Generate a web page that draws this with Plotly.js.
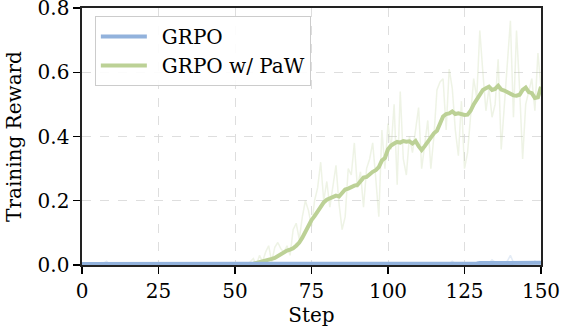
<!DOCTYPE html>
<html>
<head>
<meta charset="utf-8">
<script src="https://cdn.plot.ly/plotly-3.0.1.min.js"></script>
<style>html,body{margin:0;padding:0;background:#fff;}#chart{width:562px;height:334px;}</style>
</head>
<body>
<div id="chart"></div>
<script>
// Steps 0..150
const steps = Array.from({length: 151}, (_, i) => i);

// GRPO w/ PaW raw reward (steps 0..150)
const pawRaw = [
  0,0,0,0,0,0,0,0,0,0,
  0,0,0,0,0,0,0,0,0,0,
  0,0,0,0,0,0,0,0,0,0,
  0,0,0,0,0,0,0,0,0,0,
  0,0,0,0,0,0,0,0,0,0,
  0,0,0,0,0,0.01,0.02,0.0,0.03,0.01,
  0.04,0.06,0.01,0.055,0.07,0.05,0.04,0.06,0.03,0.11,
  0.13,0.08,0.15,0.2,0.17,0.12,0.2,0.24,0.32,0.2,
  0.26,0.18,0.25,0.31,0.19,0.11,0.15,0.3,0.28,0.38,
  0.24,0.29,0.18,0.3,0.33,0.38,0.27,0.15,0.42,0.3,
  0.44,0.36,0.5,0.25,0.54,0.33,0.28,0.4,0.35,0.42,
  0.49,0.3,0.37,0.45,0.3,0.4,0.545,0.57,0.58,0.42,
  0.61,0.55,0.42,0.34,0.51,0.3,0.35,0.46,0.58,0.52,
  0.73,0.6,0.48,0.55,0.46,0.5,0.64,0.36,0.5,0.65,
  0.76,0.46,0.73,0.55,0.33,0.5,0.54,0.58,0.48,0.66,
  0.55
];

// GRPO w/ PaW smoothed reward
const pawSmooth = [
  0,0,0,0,0,0,0,0,0,0,
  0,0,0,0,0,0,0,0,0,0,
  0,0,0,0,0,0,0,0,0,0,
  0,0,0,0,0,0,0,0,0,0,
  0,0,0,0,0,0,0,0,0,0,
  0.001,0.001,0.001,0.001,0.001,0.002,0.004,0.006,0.008,0.011,
  0.014,0.017,0.019,0.022,0.028,0.035,0.041,0.045,0.048,0.052,
  0.06,0.07,0.085,0.105,0.125,0.14,0.152,0.168,0.182,0.195,
  0.203,0.208,0.212,0.216,0.213,0.222,0.235,0.238,0.243,0.247,
  0.249,0.26,0.272,0.274,0.284,0.29,0.295,0.305,0.325,0.333,
  0.36,0.372,0.378,0.383,0.381,0.386,0.384,0.385,0.378,0.386,
  0.37,0.358,0.37,0.385,0.395,0.41,0.418,0.44,0.462,0.47,
  0.472,0.478,0.47,0.472,0.468,0.467,0.468,0.48,0.5,0.514,
  0.53,0.545,0.55,0.555,0.545,0.548,0.558,0.546,0.543,0.538,
  0.53,0.528,0.527,0.53,0.545,0.552,0.538,0.535,0.52,0.522,
  0.555
];

// GRPO raw reward
const grpoRaw = [
  0.002,0.001,0.002,0.003,0.001,0.002,0.002,0.005,0.012,0.003,
  0.002,0.001,0.002,0.002,0.001,0.003,0.002,0.001,0.002,0.004,
  0.002,0.001,0.002,0.001,0.002,0.003,0.002,0.001,0.002,0.002,
  0.001,0.002,0.004,0.002,0.001,0.002,0.002,0.001,0.003,0.002,
  0.001,0.002,0.002,0.001,0.002,0.003,0.001,0.002,0.002,0.001,
  0.002,0.001,0.002,0.002,0.001,0.003,0.002,0.001,0.002,0.002,
  0.001,0.002,0.003,0.002,0.001,0.002,0.002,0.001,0.002,0.002,
  0.001,0.002,0.002,0.001,0.003,0.002,0.002,0.001,0.002,0.002,
  0.001,0.002,0.002,0.001,0.002,0.003,0.002,0.001,0.002,0.002,
  0.001,0.002,0.002,0.001,0.002,0.002,0.003,0.001,0.002,0.002,
  0.001,0.002,0.002,0.001,0.002,0.002,0.001,0.003,0.002,0.002,
  0.001,0.002,0.002,0.001,0.004,0.002,0.002,0.003,0.004,0.002,
  0.003,0.012,0.004,0.003,0.005,0.004,0.006,0.004,0.005,0.004,
  0.006,0.005,0.007,0.006,0.016,0.008,0.007,0.006,0.008,0.012,
  0.03,0.008,0.007,0.006,0.007,0.006,0.005,0.006,0.012,0.007,
  0.006
];

// GRPO smoothed reward
const grpoSmooth = [
  0.003,0.003,0.003,0.003,0.003,0.003,0.003,0.003,0.004,0.004,
  0.003,0.003,0.003,0.003,0.003,0.003,0.003,0.003,0.003,0.003,
  0.003,0.003,0.003,0.003,0.003,0.003,0.003,0.003,0.003,0.003,
  0.003,0.003,0.003,0.003,0.003,0.003,0.003,0.003,0.003,0.003,
  0.003,0.003,0.003,0.003,0.003,0.003,0.003,0.003,0.003,0.003,
  0.003,0.003,0.003,0.003,0.003,0.003,0.003,0.003,0.003,0.003,
  0.003,0.003,0.003,0.003,0.003,0.003,0.003,0.003,0.003,0.003,
  0.002,0.002,0.002,0.002,0.002,0.002,0.002,0.002,0.002,0.002,
  0.002,0.002,0.002,0.002,0.002,0.002,0.002,0.002,0.002,0.002,
  0.002,0.002,0.002,0.002,0.002,0.002,0.002,0.002,0.002,0.002,
  0.002,0.002,0.002,0.002,0.002,0.002,0.002,0.002,0.002,0.002,
  0.002,0.002,0.002,0.002,0.003,0.003,0.003,0.003,0.003,0.003,
  0.004,0.004,0.004,0.004,0.004,0.004,0.005,0.005,0.005,0.005,
  0.006,0.006,0.006,0.006,0.007,0.007,0.007,0.007,0.007,0.008,
  0.008,0.008,0.008,0.008,0.008,0.007,0.007,0.007,0.007,0.007,
  0.007
];

const seriesNames = ['GRPO', 'GRPO w/ PaW'];
const xTicks = [0, 25, 50, 75, 100, 125, 150];
const yTicks = [0.0, 0.2, 0.4, 0.6, 0.8];
const yTickText = ["0.0", "0.2", "0.4", "0.6", "0.8"];

const blue = '#92b2dc';
const green = '#bcd196';
const serif = 'DejaVu Serif, serif';
const pad = '\u2002';

const traces = [
  {x: steps, y: pawRaw, mode: 'lines', line: {color: green, width: 1.5}, opacity: 0.25, showlegend: false, hoverinfo: 'skip'},
  {x: steps, y: grpoRaw, mode: 'lines', line: {color: blue, width: 1.5}, opacity: 0.25, showlegend: false, hoverinfo: 'skip'},
  {x: steps, y: pawSmooth, mode: 'lines', name: pad + seriesNames[1], line: {color: green, width: 4}, legendrank: 2},
  {x: steps, y: grpoSmooth, mode: 'lines', name: pad + seriesNames[0], line: {color: blue, width: 4}, legendrank: 1}
];

const layout = {
  width: 562, height: 334,
  margin: {l: 82, r: 21, t: 8, b: 69},
  paper_bgcolor: '#fff', plot_bgcolor: '#fff',
  font: {family: serif, size: 20, color: '#000'},
  xaxis: {
    range: [0, 150], tickvals: xTicks, ticks: 'outside', ticklen: 7, tickwidth: 1.3, tickcolor: '#000',
    showline: true, linecolor: '#222', linewidth: 1.6, mirror: true,
    showgrid: true, gridcolor: '#d6d6d6', griddash: 'dash', gridwidth: 0.8, zeroline: false,
    title: {text: 'Step', font: {family: serif, size: 20}, standoff: 4},
    tickfont: {family: serif, size: 20}, ticklabeloverflow: 'allow', automargin: false
  },
  yaxis: {
    range: [0, 0.8], tickvals: yTicks, ticktext: yTickText, ticks: 'outside', ticklen: 7, tickwidth: 1.3, tickcolor: '#000',
    showline: true, linecolor: '#222', linewidth: 1.6, mirror: true,
    showgrid: true, gridcolor: '#d6d6d6', griddash: 'dash', gridwidth: 0.8, zeroline: false,
    title: {text: 'Training Reward', font: {family: serif, size: 20}, standoff: 10},
    tickfont: {family: serif, size: 20}, ticklabeloverflow: 'allow', automargin: false
  },
  legend: {
    x: 0.028, y: 0.969, xanchor: 'left', yanchor: 'top',
    bgcolor: 'rgba(255,255,255,0.9)', bordercolor: '#cccccc', borderwidth: 1,
    font: {family: serif, size: 20}, itemwidth: 46, tracegroupgap: 0
  },
  showlegend: true
};

Plotly.newPlot('chart', traces, layout, {displayModeBar: false, staticPlot: true});
</script>
</body>
</html>
